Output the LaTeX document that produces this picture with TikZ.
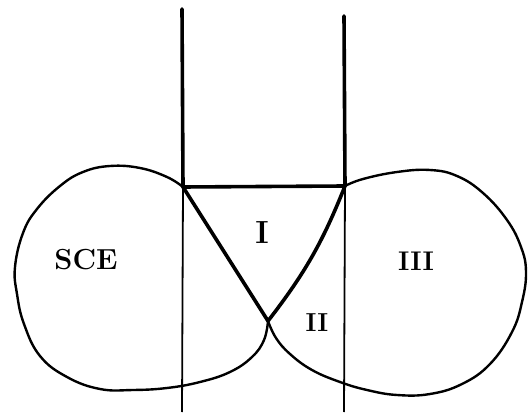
\documentclass[tikz,border=0pt]{standalone}
\usepackage{fontspec}
\begin{document}
\begin{tikzpicture}[x=1pt,y=1pt]
\tikzset{
    fino/.style={line width=1.8pt, black},
    grosso/.style={line width=3.6pt, black, line cap=round},
    laco/.style={line width=2.4pt, black, smooth, tension=0.7},
    regiao/.style={font=\fontsize{27}{30}\selectfont\bfseries, inner sep=0pt}
}
\useasboundingbox (0,0) rectangle (529,412);
\coordinate (a)  at (183,225);
\coordinate (c)  at (345,226);
\coordinate (b)  at (268,91);
\coordinate (at) at (182,403);
\coordinate (ab) at (182,0);
\coordinate (ct) at (344,396);
\coordinate (cb) at (344,0);
\draw[grosso] (at) -- (a);
\draw[fino]   (a) -- (ab);
\draw[grosso] (ct) -- (c);
\draw[fino]   (c) -- (cb);
\draw[grosso] (a) -- (c);
\draw[grosso] (a) -- (b);
\draw[grosso] (c) to[bend left=8] (b);
\draw[laco] plot coordinates {(a) (167,235) (140,244) (110,246) (83,240)
    (60,226) (37,203) (23,179) (15,145) (17,118) (24,88) (40,56) (67,35)
    (100,23) (133,22) (167,24) (200,30) (230,40) (252,55) (264,72) (b)};
\draw[laco] plot coordinates {(c) (363,233) (397,240) (430,242) (457,236)
    (483,219) (507,192) (521,165) (526,140) (522,110) (512,80) (490,48)
    (462,28) (430,18) (397,17) (367,22) (340,30) (312,42) (290,58)
    (276,74) (b)};
\node[regiao, font=\fontsize{29}{32}\selectfont\bfseries] (sce) at (86,152) {SCE};
\node[regiao, font=\fontsize{32}{35}\selectfont\bfseries] (r1) at (262,179) {I};
\node[regiao, font=\fontsize{26}{30}\selectfont\bfseries] (r2) at (317,89) {II};
\node[regiao] (r3) at (416,151) {III};
\end{tikzpicture}
\end{document}
